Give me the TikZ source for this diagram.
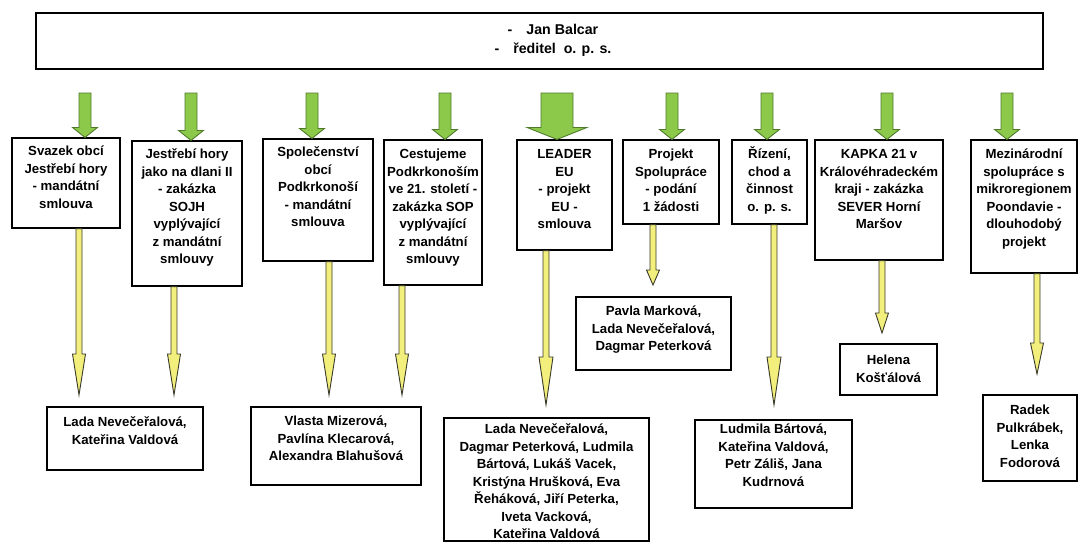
\documentclass[tikz,border=0pt]{standalone}
\usepackage{fontspec}
\setmainfont{Liberation Sans}
\usetikzlibrary{calc}
\definecolor{arrgreen}{HTML}{8CC84A}
\definecolor{arrgreenline}{HTML}{4E7A2A}
\definecolor{arryellow}{HTML}{F3EF7C}
\definecolor{arryellowline}{HTML}{3A3A2A}
\tikzset{
  box/.style={draw=black, line width=1.1pt, inner sep=0pt},
  txt/.style={align=center, inner sep=0pt, font=\bfseries\fontsize{13.2}{17.5}\selectfont},
  toptxt/.style={align=center, inner sep=0pt, font=\bfseries\fontsize{14.2}{19}\selectfont},
  garrow/.style={fill=arrgreen, draw=arrgreenline, line width=0.9pt, line join=miter},
  yarrow/.style={fill=arryellow, draw=arryellowline, line width=0.9pt, line join=miter},
}
% name x1 y1 x2 y2 offset text
\newcommand\obox[7]{%
  \pgfmathsetmacro\bw{#4-#2}\pgfmathsetmacro\bh{#5-#3}%
  \pgfmathsetmacro\bcx{(#2+#4)/2}\pgfmathsetmacro\bcy{(#3+#5)/2}%
  \node[box, minimum width=\bw pt, minimum height=\bh pt] (#1) at (\bcx,\bcy) {};
  \node[txt, anchor=north] (#1t) at ([yshift=-#6pt]#1.north) {\strut #7};}
% style, start, tip, half shaft, half head, head length
\newcommand\blockarrow[6]{%
  \path[#1] let \p1=#2, \p2=#3 in
    ({\x1-#4pt},\y1) -- ({\x1+#4pt},\y1) -- ({\x1+#4pt},{\y2+#6pt}) --
    ({\x1+#5pt},{\y2+#6pt}) -- (\x1,\y2) -- ({\x1-#5pt},{\y2+#6pt}) --
    ({\x1-#4pt},{\y2+#6pt}) -- cycle;}
\begin{document}
\begin{tikzpicture}[x=1pt,y=-1pt]
\useasboundingbox (0,0) rectangle (1079,542);
% top box
\node[box, minimum width=1007pt, minimum height=56pt] (top) at (539.5,41) {};
\node[toptxt, anchor=north] (topt) at (553,21) {\strut -\hspace{14pt}Jan Balcar\\-\hspace{14pt}ředitel\ \ o. p. s.};
% first row
\obox{b1}{12}{138}{120}{228}{6}{Svazek obcí\\Jestřebí hory\\- mandátní\\smlouva}
\obox{b2}{132}{141}{242}{286}{6}{Jestřebí hory\\jako na dlani II\\- zakázka\\SOJH\\vyplývající\\z mandátní\\smlouvy}
\obox{b3}{263}{139}{373}{261}{6}{Společenství\\obcí\\Podkrkonoší\\- mandátní\\smlouva}
\obox{b4}{384}{140}{482}{285}{7}{Cestujeme\\Podkrkonoším\\ve 21. století -\\zakázka SOP\\vyplývající\\z mandátní\\smlouvy}
\obox{b5}{517}{140}{612}{250}{7}{LEADER\\EU\\- projekt\\EU -\\smlouva}
\obox{b6}{623}{140}{719}{224}{7}{Projekt\\Spolupráce\\- podání\\1 žádosti}
\obox{b7}{732}{140}{807}{224}{7}{Řízení,\\chod a\\činnost\\o. p. s.}
\obox{b8}{815}{140}{943}{260}{7}{KAPKA 21 v\\Královéhradeckém\\kraji - zakázka\\SEVER Horní\\Maršov}
\obox{b9}{971}{140}{1077}{273}{7}{Mezinárodní\\spolupráce s\\mikroregionem\\Poondavie -\\dlouhodobý\\projekt}
% people boxes
\obox{n1}{47}{407}{203}{470}{8}{Lada Nevečeřalová,\\Kateřina Valdová}
\obox{n3}{251}{407}{421}{485}{7}{Vlasta Mizerová,\\Pavlína Klecarová,\\Alexandra Blahušová}
\obox{n5}{444}{418}{649}{541}{4}{Lada Nevečeřalová,\\Dagmar Peterková, Ludmila\\Bártová, Lukáš Vacek,\\Kristýna Hrušková, Eva\\Řeháková, Jiří Peterka,\\Iveta Vacková,\\Kateřina Valdová}
\obox{n6}{576}{297}{731}{370}{7}{Pavla Marková,\\Lada Nevečeřalová,\\Dagmar Peterková}
\obox{n7}{695}{420}{852}{508}{2}{Ludmila Bártová,\\Kateřina Valdová,\\Petr Záliš, Jana\\Kudrnová}
\obox{n8}{840}{344}{937}{395}{9}{Helena\\Košťálová}
\obox{n9}{983}{395}{1077}{481}{8}{Radek\\Pulkrábek,\\Lenka\\Fodorová}
% green arrows
\coordinate (gs1) at (85,93);  \blockarrow{garrow}{(gs1)}{(gs1 |- b1.north)}{6}{12.5}{10}
\coordinate (gs2) at (191,93); \blockarrow{garrow}{(gs2)}{(gs2 |- b2.north)}{6}{12.5}{10}
\coordinate (gs3) at (312,93); \blockarrow{garrow}{(gs3)}{(gs3 |- b3.north)}{6}{12.5}{10}
\coordinate (gs4) at (445,93); \blockarrow{garrow}{(gs4)}{(gs4 |- b4.north)}{6}{12.5}{10}
\coordinate (gs5) at (557,93); \blockarrow{garrow}{(gs5)}{(gs5 |- b5.north)}{16}{30}{12}
\coordinate (gs6) at (672,93); \blockarrow{garrow}{(gs6)}{(gs6 |- b6.north)}{6}{12.5}{10}
\coordinate (gs7) at (767,93); \blockarrow{garrow}{(gs7)}{(gs7 |- b7.north)}{6}{12.5}{10}
\coordinate (gs8) at (887,93); \blockarrow{garrow}{(gs8)}{(gs8 |- b8.north)}{6}{12.5}{10}
\coordinate (gs9) at (1007,93);\blockarrow{garrow}{(gs9)}{(gs9 |- b9.north)}{6}{12.5}{10}
% yellow arrows
\coordinate (yt1) at (79,395);   \blockarrow{yarrow}{(yt1 |- b1.south)}{(yt1)}{3}{6.5}{41}
\coordinate (yt2) at (174,395);  \blockarrow{yarrow}{(yt2 |- b2.south)}{(yt2)}{3}{6.5}{41}
\coordinate (yt3) at (329,395);  \blockarrow{yarrow}{(yt3 |- b3.south)}{(yt3)}{3}{6.5}{41}
\coordinate (yt4) at (402,395);  \blockarrow{yarrow}{(yt4 |- b4.south)}{(yt4)}{3}{6.5}{41}
\coordinate (yt5) at (546,405);  \blockarrow{yarrow}{(yt5 |- b5.south)}{(yt5)}{3}{7}{48}
\coordinate (yt6) at (653,285);  \blockarrow{yarrow}{(yt6 |- b6.south)}{(yt6)}{3}{6.5}{15}
\coordinate (yt7) at (774,405);  \blockarrow{yarrow}{(yt7 |- b7.south)}{(yt7)}{3}{7}{48}
\coordinate (yt8) at (882,333);  \blockarrow{yarrow}{(yt8 |- b8.south)}{(yt8)}{3}{6.5}{20}
\coordinate (yt9) at (1037,374); \blockarrow{yarrow}{(yt9 |- b9.south)}{(yt9)}{3}{6.5}{31}
\end{tikzpicture}
\end{document}
